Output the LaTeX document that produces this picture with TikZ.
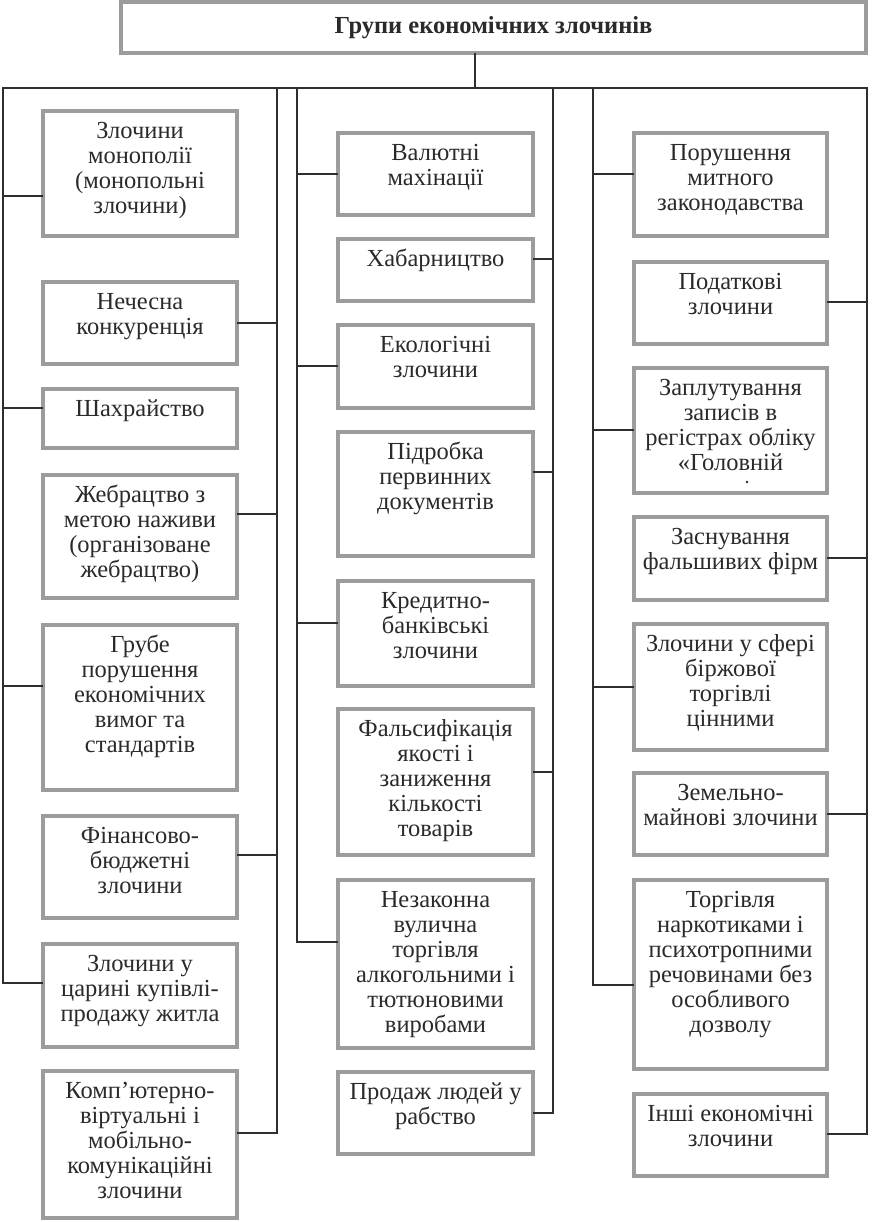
\documentclass[tikz,border=0pt]{standalone}
\usepackage{fontspec}
\setmainfont{Liberation Serif}
\definecolor{boxgray}{HTML}{9C9C9C}
\definecolor{lineblack}{HTML}{2E2E2E}
\definecolor{textgray}{HTML}{2A2A2A}
\newcommand\tp{\rule{0pt}{18pt}}
\newcommand\mybox[6]{%
  \node[box, minimum width={(#3)-(#2)}, minimum height={(#5)-(#4)}] (#1) at ({(#2+#3)/2},{(#4+#5)/2}) {};
  \node[txt] (#1t) at ([yshift=-9.5pt]#1.north) {\tp #6};
}
\tikzset{
  box/.style={draw=boxgray, line width=4pt, rectangle, inner sep=0pt, outer sep=0pt, fill=white},
  conn/.style={draw=lineblack, line width=2.4pt},
  txt/.style={anchor=north, inner sep=0pt, align=center, font=\fontsize{24.5}{25}\selectfont, text=textgray},
}
\begin{document}
\begin{tikzpicture}[x=1pt,y=-1pt]
\useasboundingbox (0,0) rectangle (871,1222);
% title
\node[box, minimum width=745, minimum height=51, font=\bfseries\fontsize{24.5}{26}\selectfont, text=textgray] (top) at (493.5,27.5) {Групи економічних злочинів};
% left column
\mybox{l1}{43}{237}{111}{236}{Злочини\\монополії\\(монопольні\\злочини)}
\mybox{l2}{43}{237}{282}{364}{Нечесна\\конкуренція}
\mybox{l3}{43}{237}{389}{448}{Шахрайство}
\mybox{l4}{43}{237}{475}{598}{Жебрацтво з\\метою наживи\\(організоване\\жебрацтво)}
\mybox{l5}{43}{237}{625}{790}{Грубе\\порушення\\економічних\\вимог та\\стандартів}
\mybox{l6}{43}{237}{816}{918}{Фінансово-\\бюджетні\\злочини}
\mybox{l7}{43}{237}{944}{1047}{Злочини у\\царині купівлі-\\продажу житла}
\mybox{l8}{43}{237}{1071}{1218}{Комп’ютерно-\\віртуальні і\\мобільно-\\комунікаційні\\злочини}
% middle column
\mybox{m1}{338}{533}{133}{215}{Валютні\\махінації}
\mybox{m2}{338}{533}{239}{301}{Хабарництво}
\mybox{m3}{338}{533}{325}{408}{Екологічні\\злочини}
\mybox{m4}{338}{533}{432}{556}{Підробка\\первинних\\документів}
\mybox{m5}{338}{533}{581}{686}{Кредитно-\\банківські\\злочини}
\mybox{m6}{338}{533}{709}{855}{Фальсифікація\\якості і\\заниження\\кількості\\товарів}
\mybox{m7}{338}{533}{880}{1048}{Незаконна\\вулична\\торгівля\\алкогольними і\\тютюновими\\виробами}
\mybox{m8}{338}{533}{1072}{1154}{Продаж людей у\\рабство}
% right column
\mybox{r1}{634}{827}{133}{236}{Порушення\\митного\\законодавства}
\mybox{r2}{634}{827}{262}{344}{Податкові\\злочини}
\mybox{r3}{634}{827}{368}{493}{Заплутування\\записів в\\регістрах обліку\\«Головній}
\fill[textgray] (747,482) circle (1.4pt);
\mybox{r4}{634}{827}{517}{600}{Заснування\\фальшивих фірм}
\mybox{r5}{634}{827}{624}{750}{Злочини у сфері\\біржової\\торгівлі\\цінними}
\mybox{r6}{634}{827}{773}{855}{Земельно-\\майнові злочини}
\mybox{r7}{634}{827}{880}{1069}{Торгівля\\наркотиками і\\психотропними\\речовинами без\\особливого\\дозволу}
\mybox{r8}{634}{827}{1094}{1176}{Інші економічні\\злочини}
% bus and stem
\coordinate (bl) at (3,88);
\coordinate (br) at (867,88);
\draw[conn] (top.south -| 475,0) -- (475,88);
\draw[conn] (l7.west |- 0,983) -- (3,983) -- (bl) -- (br) -- (867,1134) -- (r8.east |- 0,1134);
% left column lines
\draw[conn] (l1.west |- 0,196) -- (3,196);
\draw[conn] (l3.west |- 0,408) -- (3,408);
\draw[conn] (l5.west |- 0,686) -- (3,686);
\draw[conn] (277,88) -- (277,1133) -- (l8.east |- 0,1133);
\draw[conn] (l2.east |- 0,323) -- (277,323);
\draw[conn] (l4.east |- 0,514) -- (277,514);
\draw[conn] (l6.east |- 0,855) -- (277,855);
% middle column lines
\draw[conn] (297,88) -- (297,942) -- (m7.west |- 0,942);
\draw[conn] (m1.west |- 0,174) -- (297,174);
\draw[conn] (m3.west |- 0,366) -- (297,366);
\draw[conn] (m5.west |- 0,623) -- (297,623);
\draw[conn] (553,88) -- (553,1113) -- (m8.east |- 0,1113);
\draw[conn] (m2.east |- 0,259) -- (553,259);
\draw[conn] (m4.east |- 0,472) -- (553,472);
\draw[conn] (m6.east |- 0,772) -- (553,772);
% right column lines
\draw[conn] (593,88) -- (593,985) -- (r7.west |- 0,985);
\draw[conn] (r1.west |- 0,174) -- (593,174);
\draw[conn] (r3.west |- 0,430) -- (593,430);
\draw[conn] (r5.west |- 0,687) -- (593,687);
\draw[conn] (r2.east |- 0,302) -- (867,302);
\draw[conn] (r4.east |- 0,558) -- (867,558);
\draw[conn] (r6.east |- 0,814) -- (867,814);
\end{tikzpicture}
\end{document}
